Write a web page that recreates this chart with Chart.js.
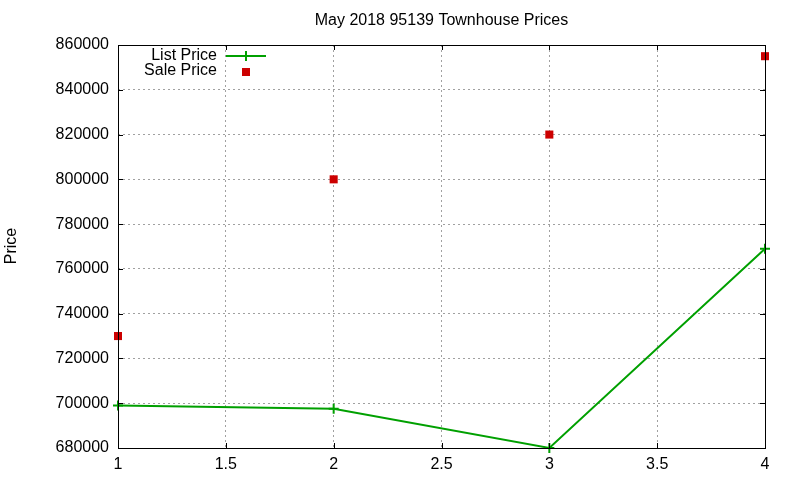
<!DOCTYPE html>
<html>
<head>
<meta charset="utf-8">
<script src="https://cdn.jsdelivr.net/npm/chart.js@4"></script>
<style>
  body { margin: 0; background: #fff; }
  canvas { display: block; }
</style>
</head>
<body>
<canvas id="myChart" width="800" height="480"></canvas>
<script>
const ctx = document.getElementById('myChart');

const xValues = [1, 2, 3, 4];
const listPrice = [699000, 697500, 680000, 769000];
const salePrice = [730000, 800000, 820000, 855000];

const FONT = "'Liberation Sans', Arial, sans-serif";

// frame, inward ticks, title, y label and legend
const gnuplotStyle = {
  id: 'gnuplotStyle',
  afterDatasetsDraw(chart) {
    const c = chart.ctx;
    const a = chart.chartArea;
    const xs = chart.scales.x;
    const ys = chart.scales.y;
    c.save();
    c.strokeStyle = '#000';
    c.lineWidth = 1;
    c.beginPath();
    xs.ticks.forEach(t => {
      const px = Math.round(xs.getPixelForValue(t.value)) + 0.5;
      c.moveTo(px, a.bottom); c.lineTo(px, a.bottom - 5);
      c.moveTo(px, a.top); c.lineTo(px, a.top + 5);
    });
    ys.ticks.forEach(t => {
      const py = Math.round(ys.getPixelForValue(t.value)) + 0.5;
      c.moveTo(a.left, py); c.lineTo(a.left + 5, py);
      c.moveTo(a.right, py); c.lineTo(a.right - 5, py);
    });
    c.stroke();
    c.strokeRect(Math.round(a.left) + 0.5, Math.round(a.top) + 0.5,
      Math.round(a.right - a.left), Math.round(a.bottom - a.top));

    c.fillStyle = '#000';
    c.font = '16px ' + FONT;
    c.textAlign = 'center';
    c.textBaseline = 'middle';
    c.fillText('May 2018 95139 Townhouse Prices', (a.left + a.right) / 2, 21);

    c.save();
    c.translate(12, 246);
    c.rotate(-Math.PI / 2);
    c.fillText('Price', 0, 0);
    c.restore();

    // legend
    c.textAlign = 'right';
    c.fillText('List Price', 217, 56);
    c.fillText('Sale Price', 217, 71);
    c.strokeStyle = '#00a000';
    c.lineWidth = 2;
    c.beginPath();
    c.moveTo(226, 56); c.lineTo(266, 56);
    c.moveTo(246, 51); c.lineTo(246, 61);
    c.stroke();
    c.fillStyle = '#cc0000';
    c.fillRect(242, 68, 8, 8);
    c.restore();
  }
};

new Chart(ctx, {
  type: 'scatter',
  data: {
    datasets: [
      {
        label: 'List Price',
        data: xValues.map((x, i) => ({ x: x, y: listPrice[i] })),
        showLine: true,
        borderColor: '#00a000',
        backgroundColor: '#00a000',
        borderWidth: 2,
        pointStyle: 'cross',
        pointRadius: 5,
        pointBorderWidth: 2,
        tension: 0,
        clip: false,
      },
      {
        label: 'Sale Price',
        data: xValues.map((x, i) => ({ x: x, y: salePrice[i] })),
        showLine: false,
        borderColor: '#cc0000',
        backgroundColor: '#cc0000',
        pointStyle: 'rect',
        pointRadius: 5.7,
        pointBorderWidth: 0,
        clip: false,
      },
    ],
  },
  options: {
    responsive: false,
    animation: false,
    layout: {
      padding: { left: 0, top: 45, right: 35, bottom: 0 },
    },
    plugins: {
      legend: { display: false },
      title: { display: false },
      tooltip: { enabled: false },
    },
    scales: {
      x: {
        type: 'linear',
        min: 1,
        max: 4,
        ticks: {
          stepSize: 0.5,
          color: '#000',
          font: { family: FONT, size: 16 },
          padding: 7,
          callback: v => String(v),
        },
        grid: {
          color: '#a0a0a0',
          drawTicks: false,
          lineWidth: 1,
        },
        border: { display: false, dash: [2, 3] },
        afterFit(scale) { scale.height = 32; },
      },
      y: {
        min: 680000,
        max: 860000,
        ticks: {
          stepSize: 20000,
          color: '#000',
          font: { family: FONT, size: 16 },
          padding: 9,
          callback: v => String(v),
        },
        grid: {
          color: '#a0a0a0',
          drawTicks: false,
          lineWidth: 1,
        },
        border: { display: false, dash: [2, 3] },
        afterFit(scale) { scale.width = 118; },
      },
    },
  },
  plugins: [gnuplotStyle],
});
</script>
</body>
</html>
